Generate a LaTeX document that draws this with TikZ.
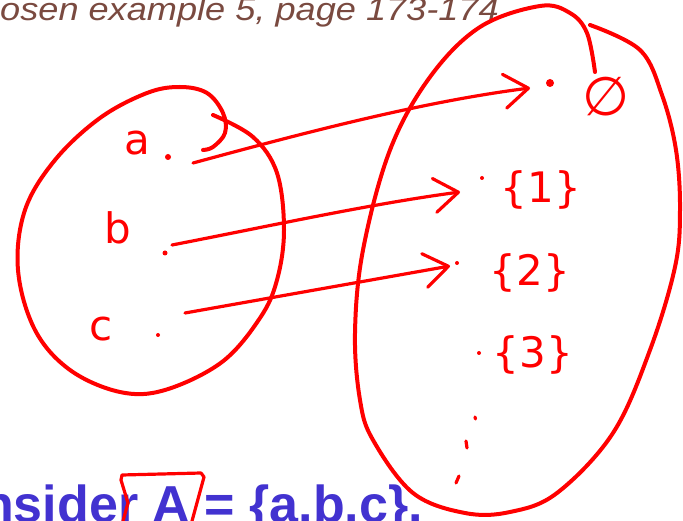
\documentclass[tikz,border=0pt]{standalone}
\usepackage{fontspec}
\setmainfont{Liberation Sans}
\newfontfamily\penfont{DejaVu Sans}
\usetikzlibrary{arrows.meta, positioning}
\definecolor{pen}{RGB}{255,0,0}
\definecolor{slidebrown}{RGB}{122,74,64}
\definecolor{slideblue}{RGB}{66,50,208}

\begin{document}
\begin{tikzpicture}[
    x=1pt, y=-1pt,
    ink/.style={draw=pen, line width=4pt, line cap=round, line join=round},
    penline/.style={draw=pen, line width=3.2pt, line cap=round, line join=round},
    handarrow/.style={penline, -{Straight Barb[length=24pt, width=34pt, round]}},
    dot/.style={circle, fill=pen, inner sep=0pt, minimum size=5pt},
    hand/.style={text=pen, inner sep=0pt, font=\penfont\fontsize{42}{46}\selectfont},
    reftext/.style={inner sep=0pt, text=slidebrown, font=\fontsize{32}{36}\selectfont\itshape},
    tasktext/.style={inner sep=0pt, text=slideblue, font=\fontsize{52}{56}\selectfont\bfseries}
  ]
    \useasboundingbox (0,0) rectangle (683,521);

    % slide text behind the ink
    \node[reftext, anchor=base east] (ref) at (499,21) {\scalebox{1.13}[1]{osen example 5, page 173-174}};
    \node[tasktext, anchor=base west] (task) at (-18,522) {nsider A = \{a.b.c\}.};

    % set A
    \draw[ink] plot[smooth, tension=0.6] coordinates {(213,115) (253,137) (277,173) (284,230) (277,280) (260,318)
        (222,362) (165,390) (120,392) (70,370) (35,330) (18,270) (25,210) (55,160) (100,118) (147,93) (180,87)
        (207,93) (223,113) (225,133) (213,147) (203,150)};
    \node[hand] (la) at (137,143) {a};
    \node[hand] (lb) at (118,228) {b};
    \node[hand] (lc) at (101,329) {c};
    \node[dot, minimum size=6pt] (da) at (168,157) {};
    \node[dot] (db) at (165,253) {};
    \node[dot, minimum size=4pt] (dc) at (158,335) {};

    % power set
    \draw[ink] plot[smooth, tension=0.6] coordinates {(590,25) (640,50) (662,95) (676,150) (680,210) (675,267)
        (650,350) (613,433) (557,493) (510,512) (465,513) (413,493) (373,440) (360,400) (355,333) (363,250)
        (390,150) (430,77) (480,27) (540,6) (570,13) (587,33) (595,72)};
    \node[dot, minimum size=8pt] (t0) at (550,83) {};
    \node[dot, minimum size=4pt] (t1) at (482,178) {};
    \node[dot, minimum size=4pt] (t2) at (457,263) {};
    \node[dot, minimum size=4pt] (t3) at (479,353) {};
    \node[hand, font=\penfont\fontsize{54}{58}\selectfont] (l0) at (606,97) {∅};
    \node[hand] (l1) at (541,190) {\{1\}};
    \node[hand] (l2) at (530,273) {\{2\}};
    \node[hand] (l3) at (533,355) {\{3\}};
    \draw[penline] (475,417) -- (475.5,419);
    \draw[penline] (466,441) -- (467,448);
    \draw[penline] (459,476) -- (456,483);

    % mapping
    \coordinate (fa) at (193,163);
    \coordinate (ha) at (530,88);
    \coordinate (fb) at (172,245);
    \coordinate (hb) at (460,192);
    \coordinate (fc) at (185,313);
    \coordinate (hc) at (450,266);
    \draw[handarrow] (fa) .. controls (300,134) and (420,102) .. (ha);
    \draw[handarrow] (fb) .. controls (270,226) and (370,204) .. (hb);
    \draw[handarrow] (fc) -- (hc);

    % box round A
    \draw[penline] (123,521) -- (128,503) -- (121,480) -- (122,475) -- (201,473) -- (204,477) -- (192,521);
  \end{tikzpicture}
\end{document}
